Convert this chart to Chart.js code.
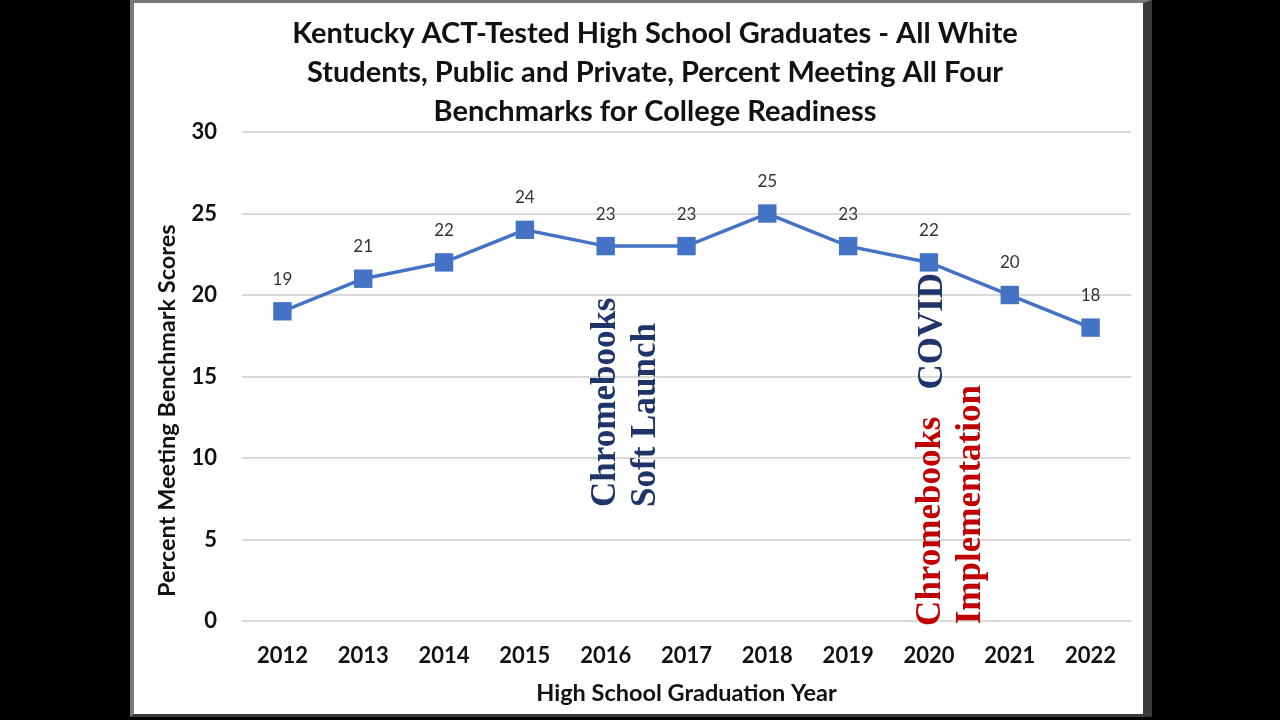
<!DOCTYPE html>
<html><head><meta charset="utf-8">
<script src="https://cdn.jsdelivr.net/npm/chart.js@4/dist/chart.umd.min.js"></script>
<style>
html,body{margin:0;padding:0;background:#000;width:1280px;height:720px;overflow:hidden}
#panel{position:absolute;left:130px;top:0;width:1022px;height:717px;background:#fff;box-sizing:border-box;border-left:4px solid #7a7a7a;border-top:3px solid #7a7a7a;border-right:9px solid #3a3a3a;border-bottom:3px solid #3a3a3a}
#c{position:absolute;left:135px;top:4px;width:1026px;height:712px}
</style></head>
<body>
<div id="panel"></div>
<canvas id="c" width="1026" height="712"></canvas>
<script>
const years = ['2012','2013','2014','2015','2016','2017','2018','2019','2020','2021','2022'];
const pctMeeting = [19,21,22,24,23,23,25,23,22,20,18];
const titleLines = [
  'Kentucky ACT-Tested High School Graduates - All White',
  'Students, Public and Private, Percent Meeting All Four',
  'Benchmarks for College Readiness'
];
const yAxisTitle = 'Percent Meeting Benchmark Scores';
const xAxisTitle = 'High School Graduation Year';
const yMin = 0, yMax = 30, yStep = 5;

const NAVY = '#1f3468';
const RED = '#c00000';
const notes = [
  {text:'Chromebooks', x:4.0, y:7.0, color:NAVY},
  {text:'Soft Launch', x:4.5, y:7.0, color:NAVY},
  {text:'COVID', x:8.05, y:14.2, color:NAVY},
  {text:'Chromebooks', x:8.03, y:-0.3, color:RED},
  {text:'Implementation', x:8.52, y:-0.2, color:RED}
];

const FONT = 'Lato, "Open Sans", sans-serif';

const labelPlugin = {
  id:'valueLabels',
  afterDatasetsDraw(chart){
    const ctx = chart.ctx;
    const meta = chart.getDatasetMeta(0);
    ctx.save();
    ctx.font = '17px ' + FONT;
    ctx.fillStyle = '#333';
    ctx.textAlign = 'center';
    ctx.textBaseline = 'middle';
    meta.data.forEach((pt,i)=>{
      ctx.fillText(String(pctMeeting[i]), pt.x, pt.y - 32);
    });
    ctx.restore();
  }
};

const yTitlePlugin = {
  id:'yTitle',
  afterDraw(chart){
    const ctx = chart.ctx;
    const ys = chart.scales.y;
    const cy = ys.top + (ys.bottom - ys.top) * 0.57;
    ctx.save();
    ctx.translate(ys.left + 18, cy);
    ctx.rotate(-Math.PI/2);
    ctx.font = 'bold 23.5px ' + FONT;
    ctx.fillStyle = '#111';
    ctx.textAlign = 'center';
    ctx.textBaseline = 'middle';
    ctx.fillText(yAxisTitle, 0, 0);
    ctx.restore();
  }
};

const notePlugin = {
  id:'notes',
  afterDraw(chart){
    const ctx = chart.ctx;
    const xs = chart.scales.x, ys = chart.scales.y;
    ctx.save();
    ctx.font = 'bold 35px "Liberation Serif", "DejaVu Serif", serif';
    ctx.textAlign = 'left';
    ctx.textBaseline = 'middle';
    notes.forEach(n=>{
      const px = xs.getPixelForValue(n.x);
      const py = ys.getPixelForValue(n.y);
      ctx.save();
      ctx.translate(px, py);
      ctx.rotate(-Math.PI/2);
      ctx.fillStyle = n.color;
      ctx.fillText(n.text, 0, 0);
      ctx.restore();
    });
    ctx.restore();
  }
};

new Chart(document.getElementById('c'), {
  type:'line',
  data:{
    labels: years,
    datasets:[{
      data: pctMeeting,
      borderColor:'#4472c4',
      backgroundColor:'#4472c4',
      borderWidth:3.5,
      pointStyle:'rect',
      pointRadius:13,
      pointHoverRadius:13,
      pointBorderWidth:0,
      tension:0,
      yAxisID:'y'
    }]
  },
  options:{
    responsive:false,
    animation:false,
    devicePixelRatio:1,
    layout:{padding:{left:14, right:0, top:0, bottom:8}},
    plugins:{
      legend:{display:false},
      tooltip:{enabled:false},
      title:{
        display:true,
        text:titleLines,
        color:'#111',
        font:{family:FONT, size:29, weight:'bold', lineHeight:1.345},
        padding:{top:10, bottom:1}
      }
    },
    scales:{
      x:{
        type:'category',
        offset:true,
        grid:{display:false, drawTicks:false},
        border:{display:false},
        ticks:{color:'#111', font:{family:FONT, size:22, weight:'bold'}, padding:22, maxRotation:0},
        title:{display:true, text:xAxisTitle, color:'#111', font:{family:FONT, size:23.5, weight:'bold'}, padding:{top:4, bottom:0}},
        afterFit(s){ s.height = 87; }
      },
      y:{
        position:'left',
        min:yMin, max:yMax,
        grid:{color:'#d9d9d9', lineWidth:2, drawTicks:false},
        border:{display:false},
        ticks:{stepSize:yStep, color:'#111', font:{family:FONT, size:22, weight:'bold'}, padding:25},
        title:{display:false},
        afterFit(s){ s.width = 93; }
      },
      yR:{
        position:'right',
        display:true,
        grid:{display:false},
        border:{display:false},
        ticks:{display:false},
        afterFit(s){ s.width = 30; }
      }
    }
  },
  plugins:[labelPlugin, yTitlePlugin, notePlugin]
});
</script>
</body></html>
